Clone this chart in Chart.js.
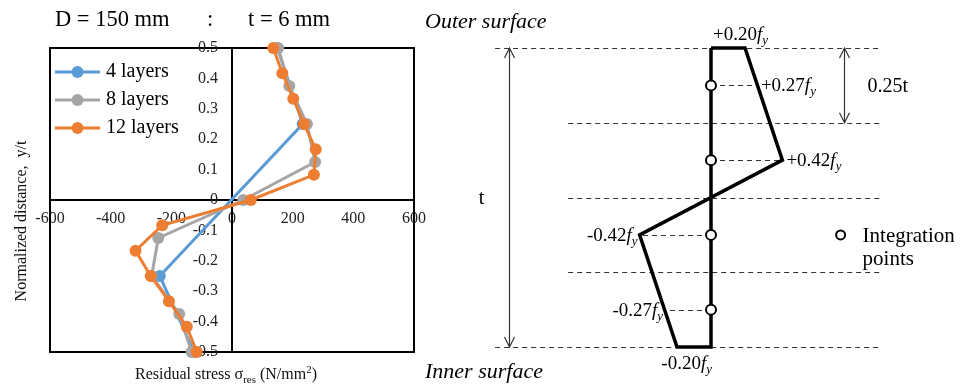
<!DOCTYPE html>
<html>
<head>
<meta charset="utf-8">
<script src="https://cdn.jsdelivr.net/npm/chart.js@4.4.1/dist/chart.umd.min.js"></script>
<style>
  html, body { margin: 0; padding: 0; background: #fff; }
  #wrap { position: relative; width: 968px; height: 388px; overflow: hidden; }
  #stressChart { position: absolute; left: 0; top: 0; }
  #profileChart { position: absolute; left: 420px; top: 0; }
</style>
</head>
<body>
<div id="wrap">
  <canvas id="stressChart" width="440" height="388"></canvas>
  <canvas id="profileChart" width="548" height="388"></canvas>
</div>
<script>
// Residual stress (N/mm2) against normalized depth y/t, per layer count
const depth4 = [0.5, 0.25, -0.25, -0.5];
const stress4 = [150, 233, -238, -125];
const depth8 = [0.5, 0.375, 0.25, 0.125, 0, -0.125, -0.25, -0.375, -0.5];
const stress8 = [152, 189, 247, 274, 37, -243, -265, -174, -133];
const depth12 = [0.5, 0.417, 0.333, 0.25, 0.167, 0.083, 0, -0.083, -0.167, -0.25, -0.333, -0.417, -0.5];
const stress12 = [136, 166, 202, 237, 276, 270, 62, -230, -318, -268, -208, -149, -116];
const seriesNames = ['4 layers', '8 layers', '12 layers'];
const seriesColors = ['#5B9BD5', '#A5A5A5', '#ED7D31'];
const stressTicks = [-600, -400, -200, 0, 200, 400, 600];
const depthTicks = [0.5, 0.4, 0.3, 0.2, 0.1, 0, -0.1, -0.2, -0.3, -0.4, -0.5];

// Idealised profile through the wall, stress in units of fy
const profileDepth = [0.5, 0.5, 0.125, -0.125, -0.5, -0.5, 0.5];
const profileStress = [0, 0.20, 0.42, -0.42, -0.20, 0, 0];
const pointDepth = [0.375, 0.125, -0.125, -0.375];
const pointStress = [0.27, 0.42, -0.42, -0.27];
const layerBounds = [0.5, 0.25, 0, -0.25, -0.5];

const SERIF = "'Liberation Serif', 'Times New Roman', serif";
Chart.defaults.font.family = SERIF;

function richText(ctx, parts, x, y, align) {
  let w = 0;
  parts.forEach(p => { ctx.font = p.font; w += ctx.measureText(p.text).width; });
  let cx = align === 'right' ? x - w : align === 'center' ? x - w / 2 : x;
  ctx.textAlign = 'left';
  ctx.textBaseline = 'alphabetic';
  parts.forEach(p => {
    ctx.font = p.font;
    ctx.fillText(p.text, cx, y + (p.dy || 0));
    cx += ctx.measureText(p.text).width;
  });
}

function fyLabel(v) {
  return [
    { text: (v > 0 ? '+' : '-') + Math.abs(v).toFixed(2), font: '19px ' + SERIF },
    { text: 'f', font: 'italic 19px ' + SERIF },
    { text: 'y', font: 'italic 13px ' + SERIF, dy: 4 }
  ];
}

function series(i, xs, ys) {
  return {
    label: seriesNames[i],
    data: xs.map((x, k) => ({ x: x, y: ys[k] })),
    showLine: true,
    borderColor: seriesColors[i],
    backgroundColor: seriesColors[i],
    pointBackgroundColor: seriesColors[i],
    pointBorderColor: seriesColors[i],
    borderWidth: 3,
    pointRadius: 6,
    pointBorderWidth: 0,
    clip: false
  };
}

const stressFrame = {
  id: 'stressFrame',
  beforeDatasetsDraw(chart) {
    const { ctx, chartArea: a, scales: { x, y } } = chart;
    ctx.save();
    ctx.strokeStyle = '#000';
    ctx.lineWidth = 2;
    ctx.strokeRect(a.left, a.top, a.right - a.left, a.bottom - a.top);

    // y tick labels sit a little to the left of the zero line
    const x0 = x.getPixelForValue(0);
    ctx.fillStyle = '#222';
    ctx.font = '16px ' + SERIF;
    ctx.textAlign = 'right';
    ctx.textBaseline = 'middle';
    y.ticks.forEach(t => {
      ctx.fillText(t.value === 0 ? '0' : t.value.toFixed(1), x0 - 14, y.getPixelForValue(t.value));
    });
    ctx.restore();
  },
  afterDraw(chart) {
    const { ctx, chartArea: a } = chart;
    ctx.save();
    ctx.fillStyle = '#000';

    // header
    ctx.font = '22.5px ' + SERIF;
    ctx.textBaseline = 'alphabetic';
    ctx.textAlign = 'left';
    ctx.fillText('D = 150 mm', 55, 26);
    ctx.fillText(':', 207, 26);
    ctx.fillText('t = 6 mm', 248, 26);

    // legend inside the plot area
    seriesNames.forEach((name, i) => {
      const y = a.top + 24 + i * 28;
      const x0 = a.left + 5;
      ctx.strokeStyle = seriesColors[i];
      ctx.lineWidth = 3;
      ctx.beginPath();
      ctx.moveTo(x0, y);
      ctx.lineTo(x0 + 45, y);
      ctx.stroke();
      ctx.fillStyle = seriesColors[i];
      ctx.beginPath();
      ctx.arc(x0 + 22.5, y, 6, 0, Math.PI * 2);
      ctx.fill();
      ctx.fillStyle = '#000';
      ctx.font = '20px ' + SERIF;
      ctx.textBaseline = 'middle';
      ctx.fillText(name, x0 + 51, y);
    });

    // axis titles
    ctx.fillStyle = '#111';
    const xMid = chart.scales.x.getPixelForValue(0) - 6;
    richText(ctx, [
      { text: 'Residual stress σ', font: '16px ' + SERIF },
      { text: 'res', font: '11px ' + SERIF, dy: 4 },
      { text: ' (N/mm', font: '16px ' + SERIF },
      { text: '2', font: '11px ' + SERIF, dy: -6 },
      { text: ')', font: '16px ' + SERIF }
    ], xMid, a.bottom + 27, 'center');

    ctx.translate(22, (a.top + a.bottom) / 2 + 21);
    ctx.rotate(-Math.PI / 2);
    ctx.font = '16px ' + SERIF;
    ctx.textAlign = 'center';
    ctx.textBaseline = 'middle';
    ctx.fillText('Normalized distance,  y/t', 0, 0);
    ctx.restore();
  }
};

new Chart(document.getElementById('stressChart'), {
  type: 'scatter',
  data: {
    datasets: [
      series(2, stress12, depth12),
      series(1, stress8, depth8),
      series(0, stress4, depth4)
    ]
  },
  options: {
    responsive: false,
    animation: false,
    layout: { padding: { left: 50, right: 26, top: 48, bottom: 36 } },
    plugins: { legend: { display: false }, tooltip: { enabled: false } },
    scales: {
      x: {
        type: 'linear',
        position: { y: 0 },
        min: -600,
        max: 600,
        afterBuildTicks: s => { s.ticks = stressTicks.map(v => ({ value: v })); },
        grid: { display: false, drawTicks: false },
        border: { color: '#000', width: 2 },
        ticks: { font: { size: 16 }, color: '#222', padding: 9, maxRotation: 0, autoSkip: false,
                 callback: v => String(v) }
      },
      y: {
        type: 'linear',
        position: { x: 0 },
        min: -0.5,
        max: 0.5,
        afterBuildTicks: s => { s.ticks = depthTicks.map(v => ({ value: v })); },
        grid: { display: false, drawTicks: false },
        border: { color: '#000', width: 2 },
        ticks: { display: false }
      }
    }
  },
  plugins: [stressFrame]
});

// positions of the dimension arrows and guide lines, in profile units
const dimX = -1.19, subDimX = 0.78, outerStart = -1.27, innerStart = -0.84;

function arrowHead(ctx, x, y, dir) {
  ctx.beginPath();
  ctx.moveTo(x - 5, y + dir * 10);
  ctx.lineTo(x, y);
  ctx.lineTo(x + 5, y + dir * 10);
  ctx.stroke();
}

const profileMarks = {
  id: 'profileMarks',
  beforeDatasetsDraw(chart) {
    const { ctx, chartArea: a, scales: { x, y } } = chart;
    ctx.save();
    ctx.strokeStyle = '#333';
    ctx.lineWidth = 1;
    ctx.setLineDash([5, 4]);
    layerBounds.forEach(d => {
      const py = Math.round(y.getPixelForValue(d)) + 0.5;
      const start = Math.abs(d) === 0.5 ? outerStart : innerStart;
      ctx.beginPath();
      ctx.moveTo(x.getPixelForValue(start), py);
      ctx.lineTo(a.right, py);
      ctx.stroke();
    });
    // leaders from the wall line to the profile at each integration point
    pointDepth.forEach((d, i) => {
      const py = Math.round(y.getPixelForValue(d)) + 0.5;
      ctx.beginPath();
      ctx.moveTo(x.getPixelForValue(0), py);
      ctx.lineTo(x.getPixelForValue(pointStress[i]), py);
      ctx.stroke();
    });
    ctx.setLineDash([]);

    // dimension arrows
    ctx.strokeStyle = '#333';
    ctx.lineWidth = 1.2;
    const tx = Math.round(x.getPixelForValue(dimX)) + 0.5;
    const top = y.getPixelForValue(0.5), bot = y.getPixelForValue(-0.5);
    ctx.beginPath(); ctx.moveTo(tx, top); ctx.lineTo(tx, bot); ctx.stroke();
    arrowHead(ctx, tx, top, 1);
    arrowHead(ctx, tx, bot, -1);
    const sx = Math.round(x.getPixelForValue(subDimX)) + 0.5;
    const sb = y.getPixelForValue(0.25);
    ctx.beginPath(); ctx.moveTo(sx, top); ctx.lineTo(sx, sb); ctx.stroke();
    arrowHead(ctx, sx, top, 1);
    arrowHead(ctx, sx, sb, -1);
    ctx.restore();
  },
  afterDraw(chart) {
    const { ctx, chartArea: a, scales: { x, y } } = chart;
    const x0 = x.getPixelForValue(0);
    const top = y.getPixelForValue(0.5), bot = y.getPixelForValue(-0.5);
    ctx.save();
    ctx.fillStyle = '#000';

    ctx.font = 'italic 22px ' + SERIF;
    ctx.textAlign = 'left';
    ctx.textBaseline = 'alphabetic';
    ctx.fillText('Outer surface', a.left - 65, top - 20);
    ctx.fillText('Inner surface', a.left - 65, bot + 31);

    ctx.font = '20px ' + SERIF;
    ctx.fillText('t', x.getPixelForValue(dimX) - 30, y.getPixelForValue(0) + 6);
    ctx.fillText('0.25t', x.getPixelForValue(subDimX) + 24, y.getPixelForValue(0.375) + 7);

    // stress values at the surfaces and integration points
    richText(ctx, fyLabel(profileStress[1]), x0 + 2, top - 8, 'left');
    richText(ctx, fyLabel(profileStress[4]), x0 + 1, bot + 22, 'right');
    pointStress.forEach((v, i) => {
      const px = x.getPixelForValue(v);
      const py = y.getPixelForValue(pointDepth[i]) + 6;
      if (v > 0) richText(ctx, fyLabel(v), px + 4, py, 'left');
      else richText(ctx, fyLabel(v), px - 2, py, 'right');
    });

    // key for the integration point marker
    const kx = x.getPixelForValue(subDimX) - 3, ky = y.getPixelForValue(-0.125);
    ctx.beginPath();
    ctx.arc(kx, ky, 4.5, 0, Math.PI * 2);
    ctx.fillStyle = '#fff';
    ctx.fill();
    ctx.strokeStyle = '#000';
    ctx.lineWidth = 2;
    ctx.stroke();
    ctx.fillStyle = '#000';
    ctx.font = '21px ' + SERIF;
    ctx.fillText('Integration', kx + 22, ky + 7);
    ctx.fillText('points', kx + 22, ky + 30);
    ctx.restore();
  }
};

new Chart(document.getElementById('profileChart'), {
  type: 'scatter',
  data: {
    datasets: [
      {
        data: pointDepth.map(d => ({ x: 0, y: d })),
        pointRadius: 5,
        pointBackgroundColor: '#fff',
        pointBorderColor: '#000',
        pointBorderWidth: 2,
        showLine: false,
        clip: false
      },
      {
        data: profileStress.map((s, i) => ({ x: s, y: profileDepth[i] })),
        showLine: true,
        borderColor: '#000',
        borderWidth: 3.5,
        borderJoinStyle: 'miter',
        pointRadius: 0,
        clip: false
      }
    ]
  },
  options: {
    responsive: false,
    animation: false,
    layout: { padding: { left: 70, right: 87, top: 48, bottom: 41 } },
    plugins: { legend: { display: false }, tooltip: { enabled: false } },
    scales: {
      x: { type: 'linear', display: false, min: -1.3, max: 1.0 },
      y: { type: 'linear', display: false, min: -0.5, max: 0.5 }
    }
  },
  plugins: [profileMarks]
});
</script>
</body>
</html>
